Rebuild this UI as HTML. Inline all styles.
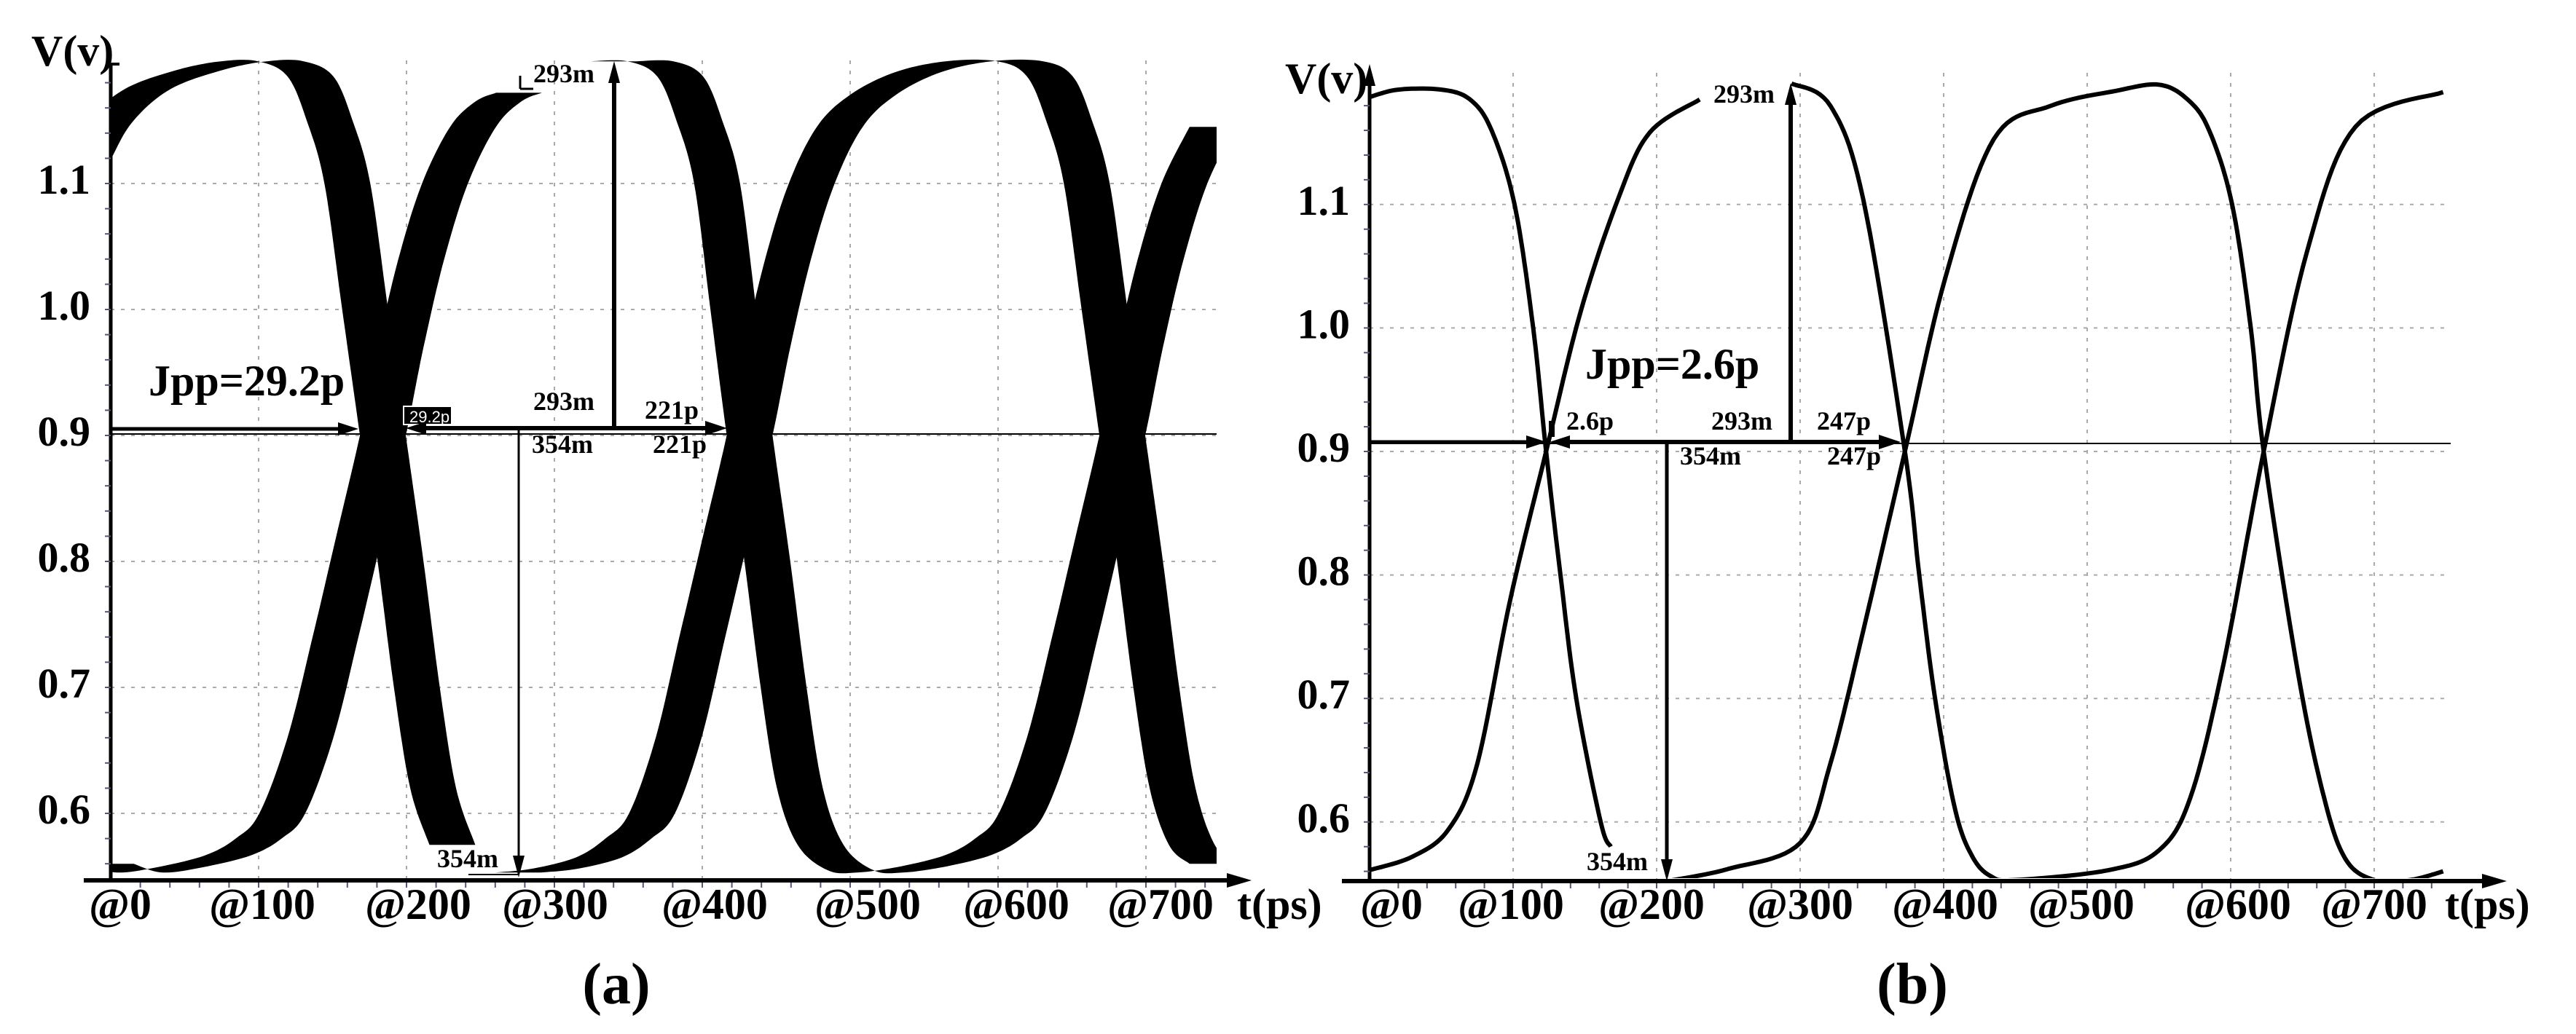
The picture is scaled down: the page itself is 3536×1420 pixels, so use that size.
<!DOCTYPE html>
<html><head><meta charset="utf-8"><style>
html,body{margin:0;padding:0;background:#fff}
svg{display:block}
text{font-family:"Liberation Serif",serif;font-weight:bold;fill:#000}
</style></head><body>
<svg id="c" width="3536" height="1420" viewBox="0 0 3536 1420" xmlns="http://www.w3.org/2000/svg"></svg>
<script>
// ---------- data ----------
const xTicks = [0,100,200,300,400,500,600,700];
const xTickLabels = ["@0","@100","@200","@300","@400","@500","@600","@700"];
const yTicks = [0.6,0.7,0.8,0.9,1.0,1.1];
const yTickLabels = ["0.6","0.7","0.8","0.9","1.0","1.1"];
const bandWidthA = [31];
// panel (a) traces (centre lines of jitter bands): t in ps, v in volts
const a1T = [-30,-15,0,25,60,90,115,135,148,160,172,184,196,207,218,231];
const a1V = [1.08,1.12,1.15,1.175,1.19,1.197,1.197,1.185,1.15,1.1,1.0,0.9,0.8,0.7,0.62,0.575];
const a2T = [0,20,50,80,100,116,135,152,168,184,196,210,226,245,262,276];
const a2V = [0.56,0.553,0.558,0.567,0.58,0.6,0.66,0.74,0.82,0.9,0.97,1.04,1.1,1.145,1.165,1.172];
const a3T = [275,300,330,350,366,384,400,416,432,444,458,474,493,515,545,580,615,635,648,660,672,684,696,707,718,731,745];
const a3V = [0.553,0.556,0.565,0.58,0.6,0.66,0.74,0.82,0.9,0.97,1.04,1.1,1.145,1.17,1.188,1.197,1.197,1.185,1.15,1.1,1.0,0.9,0.8,0.7,0.62,0.575,0.56];
const a4T = [340,365,385,398,410,421,432,444,455,466,480,500,520,550,580,600,616,635,652,668,684,696,710,726,745];
const a4V = [1.197,1.197,1.185,1.15,1.1,1.0,0.9,0.8,0.7,0.62,0.575,0.555,0.553,0.558,0.567,0.58,0.6,0.66,0.74,0.82,0.9,0.97,1.04,1.1,1.145];
// panel (b) traces
const b1T = [0,20,50,70,85,101,114,123,133,144,161,168];
const b1V = [1.187,1.193,1.193,1.185,1.16,1.1,1.0,0.9,0.8,0.7,0.6,0.58];
const b2T = [0,30,55,75,98,123,147,173,195,230];
const b2V = [0.561,0.572,0.594,0.647,0.78,0.9,1.013,1.104,1.158,1.185];
const b3T = [207,250,300,321,344,373,401,435,475,520,550,570,585,601,614,623,647,665,680,700,725,748];
const b3V = [0.552,0.562,0.583,0.647,0.755,0.9,1.04,1.153,1.18,1.192,1.197,1.185,1.16,1.1,1.0,0.9,0.72,0.62,0.57,0.553,0.553,0.56];
const b4T = [294,321,344,373,383,394,408,420,433,450,515,550,572,595,623,653,687,748];
const b4V = [1.198,1.18,1.104,0.9,0.8,0.7,0.61,0.572,0.556,0.553,0.561,0.577,0.62,0.728,0.9,1.061,1.163,1.191];

// ---------- helpers ----------
const NS="http://www.w3.org/2000/svg";
const svg=document.getElementById('c');
function mk(tag,attrs,parent){const e=document.createElementNS(NS,tag);for(const k in attrs)e.setAttribute(k,attrs[k]);(parent||svg).appendChild(e);return e;}
function txt(s,x,y,size,anchor,parent,name){const t=mk('text',{x:x,y:y,'font-size':size,'text-anchor':anchor||'start'},parent);t.textContent=s;


return t;}
function smooth(pts,n){const out=[];for(let i=0;i<pts.length-1;i++){const p0=pts[Math.max(0,i-1)],p1=pts[i],p2=pts[i+1],p3=pts[Math.min(pts.length-1,i+2)];
for(let k=0;k<n;k++){const s=k/n,s2=s*s,s3=s2*s;
const x=0.5*((2*p1[0])+(-p0[0]+p2[0])*s+(2*p0[0]-5*p1[0]+4*p2[0]-p3[0])*s2+(-p0[0]+3*p1[0]-3*p2[0]+p3[0])*s3);
const y=0.5*((2*p1[1])+(-p0[1]+p2[1])*s+(2*p0[1]-5*p1[1]+4*p2[1]-p3[1])*s2+(-p0[1]+3*p1[1]-3*p2[1]+p3[1])*s3);
out.push([x,y]);}}out.push(pts[pts.length-1]);return out;}
function arrowHead(g,tx,ty,dir,len,half){
let p;
if(dir==='r')p=[[tx,ty],[tx-len,ty-half],[tx-len,ty+half]];
if(dir==='l')p=[[tx,ty],[tx+len,ty-half],[tx+len,ty+half]];
if(dir==='u')p=[[tx,ty],[tx-half,ty+len],[tx+half,ty+len]];
if(dir==='d')p=[[tx,ty],[tx-half,ty-len],[tx+half,ty-len]];
const e=mk('polygon',{points:p.map(q=>q.join(',')).join(' '),fill:'#000'},g);

}
function line(g,x1,y1,x2,y2,w,name,extra){const e=mk('line',Object.assign({x1:x1,y1:y1,x2:x2,y2:y2,stroke:'#000','stroke-width':w},extra||{}),g);

return e;}

function panel(cfg){
const g=mk('g',{});


const X=t=>cfg.x0+t*cfg.pxPerPs, Y=v=>cfg.y09-(v-0.9)*cfg.pxPerV;
xTicks.forEach((t,i)=>{if(t===0)return;line(g,X(t),cfg.top,X(t),cfg.axisY,2,'x-grid-line',{stroke:'#aaa','stroke-dasharray':'5 9'});});
yTicks.forEach(v=>{line(g,cfg.x0,Y(v),cfg.right,Y(v),2,'y-grid-line',{stroke:'#aaa','stroke-dasharray':'5 9'});});
const cid='clip'+cfg.id;const cp=mk('clipPath',{id:cid},g);mk('rect',{x:cfg.x0,y:cfg.top-4,width:cfg.right-cfg.x0,height:cfg.axisY-cfg.top},cp);
const tg=mk('g',{'clip-path':'url(#'+cid+')'},g);
cfg.traces.forEach((tr,i)=>{
 const pts=smooth(tr[0].map((t,k)=>[X(t),Y(tr[1][k])]),12);
 if(cfg.band){const h=cfg.band*cfg.pxPerPs/2;
  const poly=pts.map(p=>[p[0]+h,p[1]]).concat(pts.slice().reverse().map(p=>[p[0]-h,p[1]]));
  const e=mk('polygon',{points:poly.map(p=>p[0].toFixed(1)+','+p[1].toFixed(1)).join(' '),fill:'#000'},tg);
  
  
 } else {
  const e=mk('polyline',{points:pts.map(p=>p[0].toFixed(1)+','+p[1].toFixed(1)).join(' '),fill:'none',stroke:'#000','stroke-width':6,'stroke-linejoin':'round'},tg);
  
  
 }
});
line(g,cfg.axStart,cfg.axisY,cfg.axEnd-20,cfg.axisY,6,'x-axis');
arrowHead(g,cfg.axEnd,cfg.axisY,'r',34,10);
line(g,cfg.x0,cfg.axisY,cfg.x0,cfg.yTop,5,'y-axis');
if(cfg.yArrow)arrowHead(g,cfg.x0,cfg.yTop-12,'u',30,8);else line(g,cfg.x0,cfg.yTop,cfg.x0+12,cfg.yTop,4,'y-axis-cap');
for(let t=20;t<=740;t+=20){line(g,X(t),cfg.axisY+3,X(t),cfg.axisY+10,2,'x-minor-tick',{stroke:'#557'});}
for(let v=0.56;v<=1.19;v+=0.02){line(g,cfg.x0-8,Y(v),cfg.x0,Y(v),2,'y-minor-tick',{stroke:'#557'});}
xTickLabels.forEach((s,i)=>txt(s,cfg.labelX[i],1262,60,'middle',g,'x-tick-label'));
txt('t(ps)',cfg.tpsX,1262,60,'start',g,'x-axis-title');
yTicks.forEach((v,i)=>txt(yTickLabels[i],cfg.ylabR,Y(v)+14,58,'end',g,'y-tick-label'));
txt('V(v)',cfg.vvX,cfg.vvY,60,'start',g,'y-axis-title');
txt(cfg.caption,cfg.capX,1378,80,'middle',g,'panel-caption');
return g;}

// ---------- panel (a) ----------
const ga=panel({id:'a',name:'panel-a',x0:152,pxPerPs:2.03,y09:598,pxPerV:1730,top:83,axisY:1209,right:1670,
 axStart:115,axEnd:1718,yTop:88,yArrow:false,band:bandWidthA[0],
 traces:[[a1T,a1V],[a2T,a2V],[a3T,a3V],[a4T,a4V]],
 labelX:[165,360,574,762,981,1191,1395,1593],tpsX:1698,ylabR:124,vvX:43,vvY:90,caption:'(a)',capX:846});
line(ga,152,596,1670,596,2,'crossing-level-line');
line(ga,152,589,470,589,5,'jpp-arrow-shaft');arrowHead(ga,492,589,'r',28,9);
txt('Jpp=29.2p',204,543,60,'start',ga,'jpp-label');
const bx=mk('rect',{x:554,y:558,width:66,height:25,fill:'#000',stroke:'#fff','stroke-width':2},ga);

const bt=txt('29.2p',562,580,22,'start',ga,'jitter-box-label');bt.setAttribute('style','fill:#fff;font-family:"Liberation Sans",sans-serif;font-weight:normal');
line(ga,580,588,975,588,6,'period-arrow-shaft');arrowHead(ga,557,588,'l',28,9);arrowHead(ga,998,588,'r',30,10);
line(ga,843,588,843,110,6,'amplitude-arrow-shaft');arrowHead(ga,843,84,'u',30,8);
line(ga,712,588,712,1180,3,'low-arrow-shaft');arrowHead(ga,712,1205,'d',30,8);
line(ga,643,1201,712,1201,2,'low-marker-line');
line(ga,714,104,714,122,3,'top-marker');line(ga,714,122,732,122,3,'top-marker-foot');
txt('293m',732,113,36,'start',ga,'amp-label-top');
txt('293m',732,563,36,'start',ga,'amp-label');
txt('354m',730,622,36,'start',ga,'low-label');
txt('354m',600,1191,36,'start',ga,'low-label-bottom');
txt('221p',885,575,36,'start',ga,'period-label-top');
txt('221p',896,622,36,'start',ga,'period-label-bottom');

// ---------- panel (b) ----------
const gb=panel({id:'b',name:'panel-b',x0:1880,pxPerPs:1.97,y09:620,pxPerV:1696,top:100,axisY:1210,right:3364,
 axStart:1842,axEnd:3441,yTop:100,yArrow:true,band:0,
 traces:[[b1T,b1V],[b2T,b2V],[b3T,b3V],[b4T,b4V]],
 labelX:[1910,2074,2267,2471,2670,2857,3072,3259],tpsX:3356,ylabR:1853,vvX:1764,vvY:128,caption:'(b)',capX:2625});
line(gb,1880,609,3364,609,2,'crossing-level-line');
line(gb,1880,607,2100,607,5,'jpp-arrow-shaft');arrowHead(gb,2123,607,'r',28,9);
line(gb,2130,578,2130,600,8,'jitter-marker');
line(gb,2150,607,2585,607,6,'period-arrow-shaft');arrowHead(gb,2127,607,'l',28,9);arrowHead(gb,2609,607,'r',30,10);
line(gb,2458,607,2458,140,6,'amplitude-arrow-shaft');arrowHead(gb,2458,114,'u',30,8);
line(gb,2288,607,2288,1185,5,'low-arrow-shaft');arrowHead(gb,2288,1210,'d',30,8);
txt('Jpp=2.6p',2176,520,60,'start',gb,'jpp-label');
txt('2.6p',2150,590,36,'start',gb,'jitter-label');
txt('293m',2349,590,36,'start',gb,'amp-label');
txt('293m',2352,141,36,'start',gb,'amp-label-top');
txt('247p',2494,590,36,'start',gb,'period-label-top');
txt('247p',2508,638,36,'start',gb,'period-label-bottom');
txt('354m',2306,638,36,'start',gb,'low-label');
txt('354m',2178,1195,36,'start',gb,'low-label-bottom');
</script>
</body></html>
